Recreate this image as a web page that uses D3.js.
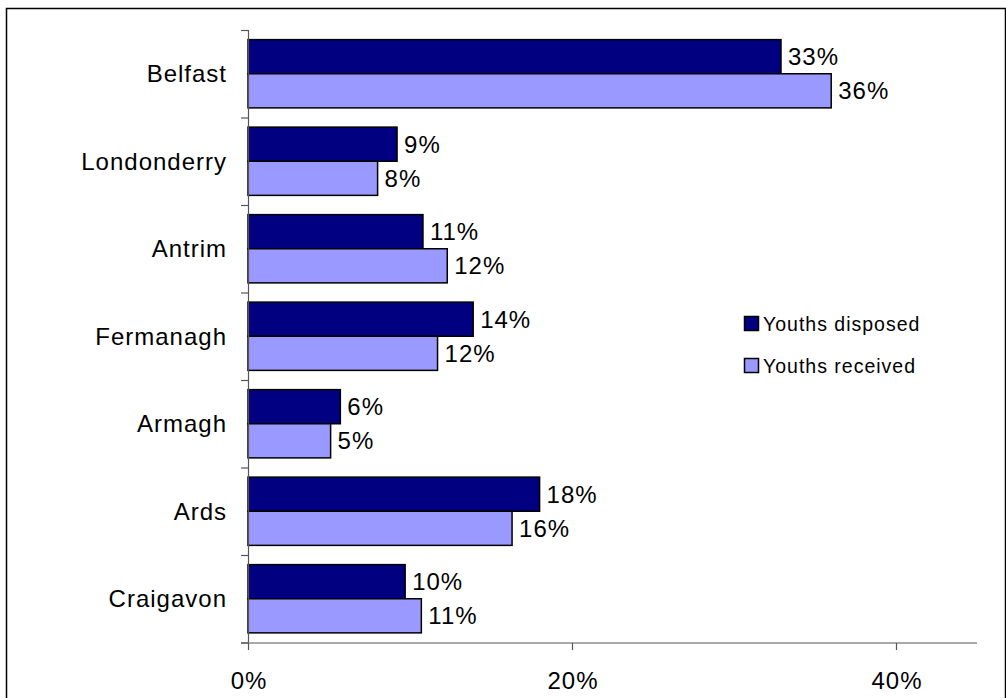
<!DOCTYPE html>
<html>
<head>
<meta charset="utf-8">
<script src="https://cdn.jsdelivr.net/npm/d3@7"></script>
<style>
  body { margin: 0; background: #fff; }
  svg text { font-family: "Liberation Sans", Arial, sans-serif; fill: #000; }
</style>
</head>
<body>
<svg id="chart" width="1006" height="698"></svg>
<script>
// chart data (bar lengths, labels as printed)
var categories = ["Belfast", "Londonderry", "Antrim", "Fermanagh", "Armagh", "Ards", "Craigavon"];
var seriesNames = ["Youths disposed", "Youths received"];
var disposed = [0.329, 0.092, 0.108, 0.139, 0.057, 0.180, 0.097];
var received = [0.360, 0.080, 0.123, 0.117, 0.051, 0.163, 0.107];
var disposedLabels = ["33%", "9%", "11%", "14%", "6%", "18%", "10%"];
var receivedLabels = ["36%", "8%", "12%", "12%", "5%", "16%", "11%"];
var xTicks = [0, 0.2, 0.4];
var colors = ["#000080", "#9999ff"];

var svg = d3.select("#chart");

// outer frame
svg.append("rect")
    .attr("x", 6.5).attr("y", 8.5)
    .attr("width", 999).attr("height", 720)
    .attr("fill", "none").attr("stroke", "#000").attr("stroke-width", 1.5);

var x = d3.scaleLinear().domain([0, 0.45]).range([248, 977]);
var y = d3.scaleBand().domain(categories).range([30, 642.5]).paddingInner(0.22).paddingOuter(0.11);
var ySub = d3.scaleBand().domain([0, 1]).range([0, y.bandwidth()]);
var step = y.step();

var rows = categories.map(function(c, i) {
    return [
        {cat: c, s: 0, v: disposed[i], label: disposedLabels[i]},
        {cat: c, s: 1, v: received[i], label: receivedLabels[i]}
    ];
});
var bars = d3.merge(rows);

// bars
svg.append("g").selectAll("rect").data(bars).enter()
    .append("rect")
    .attr("x", x(0))
    .attr("y", function(d) { return y(d.cat) + ySub(d.s); })
    .attr("width", function(d) { return x(d.v) - x(0); })
    .attr("height", ySub.bandwidth())
    .attr("fill", function(d) { return colors[d.s]; })
    .attr("stroke", "#000").attr("stroke-width", 1.5);

// value labels
svg.append("g").selectAll("text").data(bars).enter()
    .append("text")
    .attr("x", function(d) { return x(d.v) + 7; })
    .attr("y", function(d) { return y(d.cat) + ySub(d.s) + ySub.bandwidth() / 2; })
    .attr("dy", "0.36em")
    .style("font-size", "24px").style("letter-spacing", "1px")
    .text(function(d) { return d.label; });

// y axis: line + ticks at band boundaries
var yAxis = svg.append("g");
var r0 = y.range()[0], r1 = y.range()[1];
yAxis.append("line")
    .attr("x1", x(0) + 0.5).attr("x2", x(0) + 0.5)
    .attr("y1", r0).attr("y2", r1)
    .attr("stroke", "#555").attr("stroke-width", 1.2);
yAxis.selectAll("line.tick").data(d3.range(categories.length + 1)).enter()
    .append("line").attr("class", "tick")
    .attr("x1", x(0) - 7).attr("x2", x(0) + 0.5)
    .attr("y1", function(d) { return r0 + d * step + 0.5; })
    .attr("y2", function(d) { return r0 + d * step + 0.5; })
    .attr("stroke", "#555").attr("stroke-width", 1.2);
yAxis.selectAll("text").data(categories).enter()
    .append("text")
    .attr("x", 227)
    .attr("y", function(d) { return y(d) + y.bandwidth() / 2; })
    .attr("dy", "0.36em")
    .attr("text-anchor", "end")
    .style("font-size", "24px").style("letter-spacing", "1px")
    .text(function(d) { return d; });

// x axis
var xAxis = svg.append("g").attr("transform", "translate(0," + (r1 + 0.5) + ")");
xAxis.append("line")
    .attr("x1", x(0) - 7).attr("x2", x(0.45))
    .attr("stroke", "#555").attr("stroke-width", 1.2);
xAxis.selectAll("line.tick").data(xTicks).enter()
    .append("line").attr("class", "tick")
    .attr("x1", function(d) { return x(d) + 0.5; })
    .attr("x2", function(d) { return x(d) + 0.5; })
    .attr("y1", 0).attr("y2", 7)
    .attr("stroke", "#555").attr("stroke-width", 1.2);
xAxis.selectAll("text").data(xTicks).enter()
    .append("text")
    .attr("x", function(d) { return x(d) + 1; })
    .attr("y", 45.5)
    .attr("text-anchor", "middle")
    .style("font-size", "24px").style("letter-spacing", "1px")
    .text(d3.format(".0%"));

// legend
var legend = svg.append("g").selectAll("g").data(seriesNames).enter()
    .append("g")
    .attr("transform", function(d, i) { return "translate(744," + (316 + i * 42) + ")"; });
legend.append("rect")
    .attr("x", 0.5).attr("y", 0.5)
    .attr("width", 14).attr("height", 14)
    .attr("fill", function(d, i) { return colors[i]; })
    .attr("stroke", "#000").attr("stroke-width", 1.5);
legend.append("text")
    .attr("x", 19).attr("y", 7.5)
    .attr("dy", "0.36em")
    .style("font-size", "19.5px").style("letter-spacing", "1px")
    .text(function(d) { return d; });
</script>
</body>
</html>
